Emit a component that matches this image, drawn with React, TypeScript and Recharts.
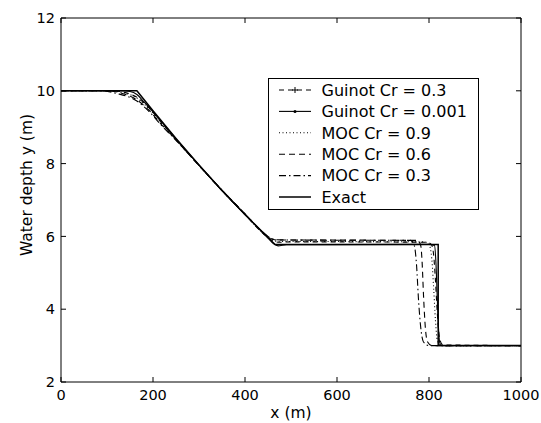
import React from 'react';
import { LineChart, Line, XAxis, YAxis } from 'recharts';

const xTicks = [0, 200, 400, 600, 800, 1000];
const yTicks = [2, 4, 6, 8, 10, 12];

const seriesNames = ['Guinot Cr = 0.3', 'Guinot Cr = 0.001', 'MOC Cr = 0.9', 'MOC Cr = 0.6', 'MOC Cr = 0.3', 'Exact'];

const guinot03X = [0, 110, 140, 165, 190, 220, 250, 300, 350, 400, 445, 460, 475, 500, 795, 805, 810, 814, 818, 823, 830, 1000];
const guinot03Y = [10, 10, 9.95, 9.82, 9.55, 9.1, 8.66, 7.95, 7.26, 6.6, 6.02, 5.88, 5.84, 5.85, 5.84, 5.78, 5.5, 4.8, 3.9, 3.2, 3.02, 3.0];

const guinot0001X = [0, 130, 150, 165, 180, 200, 250, 300, 350, 400, 450, 462, 472, 490, 800, 812, 815, 818, 821, 824, 830, 1000];
const guinot0001Y = [10, 10, 9.98, 9.9, 9.7, 9.42, 8.68, 7.96, 7.26, 6.6, 5.97, 5.8, 5.74, 5.77, 5.78, 5.75, 5.3, 4.3, 3.4, 3.05, 3.0, 3.0];

const moc09X = [0, 100, 130, 165, 190, 220, 250, 300, 350, 400, 445, 460, 475, 500, 790, 800, 806, 810, 814, 818, 825, 1000];
const moc09Y = [10, 10, 9.96, 9.8, 9.52, 9.08, 8.66, 7.95, 7.26, 6.6, 6.03, 5.9, 5.86, 5.86, 5.85, 5.78, 5.4, 4.6, 3.7, 3.15, 3.0, 3.0];

const moc06X = [0, 100, 130, 165, 190, 220, 250, 300, 350, 400, 440, 455, 470, 500, 775, 782, 785, 788, 792, 797, 806, 1000];
const moc06Y = [10, 10, 9.94, 9.75, 9.48, 9.05, 8.65, 7.95, 7.27, 6.62, 6.1, 5.95, 5.9, 5.9, 5.89, 5.75, 5.3, 4.4, 3.5, 3.1, 3.0, 3.0];

const moc03X = [0, 90, 120, 165, 190, 220, 250, 300, 350, 400, 440, 455, 470, 500, 760, 768, 773, 777, 782, 788, 800, 1000];
const moc03Y = [10, 10, 9.93, 9.72, 9.45, 9.03, 8.64, 7.95, 7.27, 6.62, 6.1, 5.96, 5.91, 5.9, 5.89, 5.75, 5.2, 4.3, 3.5, 3.1, 3.0, 3.0];

const exactX = [0, 165, 200, 250, 300, 350, 400, 450, 465, 820, 820, 1000];
const exactY = [10, 10, 9.45, 8.69, 7.96, 7.26, 6.6, 5.96, 5.78, 5.78, 3.0, 3.0];

const zip = (xs: number[], ys: number[]) => xs.map((x, i) => ({ x, y: ys[i] }));

const FONT = '"DejaVu Sans", sans-serif';

const styles = [
  { dash: '5 4', width: 1.1, marker: 'plus', type: 'monotone' },
  { dash: undefined, width: 1.1, marker: 'dot', type: 'monotone' },
  { dash: '1 2.5', width: 1.1, marker: null, type: 'monotone' },
  { dash: '6 4', width: 1.1, marker: null, type: 'monotone' },
  { dash: '7 3 1.5 3', width: 1.1, marker: null, type: 'monotone' },
  { dash: undefined, width: 1.5, marker: null, type: 'linear' },
];

const seriesData = [
  zip(guinot03X, guinot03Y),
  zip(guinot0001X, guinot0001Y),
  zip(moc09X, moc09Y),
  zip(moc06X, moc06Y),
  zip(moc03X, moc03Y),
  zip(exactX, exactY),
];

const BottomTick = (p: any) => (
  <g>
    <line x1={p.x} y1={p.y} x2={p.x} y2={p.y - 5} stroke="#000" />
    <text x={p.x} y={p.y + 18} textAnchor="middle" fontFamily={FONT} fontSize={14.5} fill="#000">
      {p.payload.value}
    </text>
  </g>
);
const TopTick = (p: any) => <line x1={p.x} y1={p.y} x2={p.x} y2={p.y + 5} stroke="#000" />;
const LeftTick = (p: any) => (
  <g>
    <line x1={p.x} y1={p.y} x2={p.x + 5} y2={p.y} stroke="#000" />
    <text x={p.x - 6} y={p.y} dy="0.36em" textAnchor="end" fontFamily={FONT} fontSize={14.5} fill="#000">
      {p.payload.value}
    </text>
  </g>
);
const RightTick = (p: any) => <line x1={p.x} y1={p.y} x2={p.x - 5} y2={p.y} stroke="#000" />;

const LegendBox = () => {
  const rowY = (i: number) => 12 + i * 21.4;
  return (
    <svg width={211} height={132} style={{ display: 'block' }}>
      <rect x={0.5} y={0.5} width={210} height={131} fill="#fff" stroke="#000" />
      {seriesNames.map((name, i) => {
        const s = styles[i];
        const cy = rowY(i);
        return (
          <g key={name}>
            <line x1={11} y1={cy} x2={43} y2={cy} stroke="#000" strokeWidth={s.width} strokeDasharray={s.dash} />
            {s.marker === 'plus' && (
              <g stroke="#000" strokeWidth={1}>
                <line x1={24} y1={cy} x2={30} y2={cy} />
                <line x1={27} y1={cy - 3} x2={27} y2={cy + 3} />
              </g>
            )}
            {s.marker === 'dot' && <circle cx={27} cy={cy} r={1.5} fill="#000" />}
            <text x={53.5} y={cy + 5.8} fontFamily={FONT} fontSize={16} fill="#000">
              {name}
            </text>
          </g>
        );
      })}
    </svg>
  );
};

export default function App() {
  return (
    <div style={{ position: 'absolute', left: 0, top: 0, width: 541, height: 423 }}>
      <LineChart width={541} height={423} margin={{ top: 0, right: 0, bottom: 0, left: 0 }}>
        <XAxis
          xAxisId="b"
          dataKey="x"
          type="number"
          domain={[0, 1000]}
          ticks={xTicks}
          height={41}
          tickSize={0}
          tickMargin={0}
          tickLine={false}
          axisLine={{ stroke: '#000' }}
          tick={BottomTick}
          interval={0}
          allowDataOverflow
          label={{
            content: () => (
              <text x={291} y={418} textAnchor="middle" fontFamily={FONT} fontSize={15.5} fill="#000">
                x (m)
              </text>
            ),
          }}
        />
        <XAxis
          xAxisId="t"
          orientation="top"
          dataKey="x"
          type="number"
          domain={[0, 1000]}
          ticks={xTicks}
          height={18}
          tickSize={0}
          tickMargin={0}
          tickLine={false}
          axisLine={{ stroke: '#000' }}
          tick={TopTick}
          interval={0}
          allowDataOverflow
        />
        <YAxis
          yAxisId="l"
          type="number"
          domain={[2, 12]}
          ticks={yTicks}
          width={61}
          tickSize={0}
          tickMargin={0}
          tickLine={false}
          axisLine={{ stroke: '#000' }}
          tick={LeftTick}
          interval={0}
          allowDataOverflow
          label={{
            content: () => (
              <text
                transform="translate(27,185) rotate(-90)"
                textAnchor="middle"
                dy="0.35em"
                fontFamily={FONT}
                fontSize={15.5}
                fill="#000"
              >
                Water depth y (m)
              </text>
            ),
          }}
        />
        <YAxis
          yAxisId="r"
          orientation="right"
          type="number"
          domain={[2, 12]}
          ticks={yTicks}
          width={20}
          tickSize={0}
          tickMargin={0}
          tickLine={false}
          axisLine={{ stroke: '#000' }}
          tick={RightTick}
          interval={0}
          allowDataOverflow
        />
        {seriesData.map((d, i) => (
          <Line
            key={seriesNames[i]}
            xAxisId="b"
            yAxisId="l"
            data={d}
            dataKey="y"
            name={seriesNames[i]}
            type={styles[i].type as any}
            stroke="#000"
            strokeWidth={styles[i].width}
            strokeDasharray={styles[i].dash}
            dot={false}
            activeDot={false}
            isAnimationActive={false}
          />
        ))}
      </LineChart>
      <div style={{ position: 'absolute', left: 268, top: 78 }}>
        <LegendBox />
      </div>
    </div>
  );
}
